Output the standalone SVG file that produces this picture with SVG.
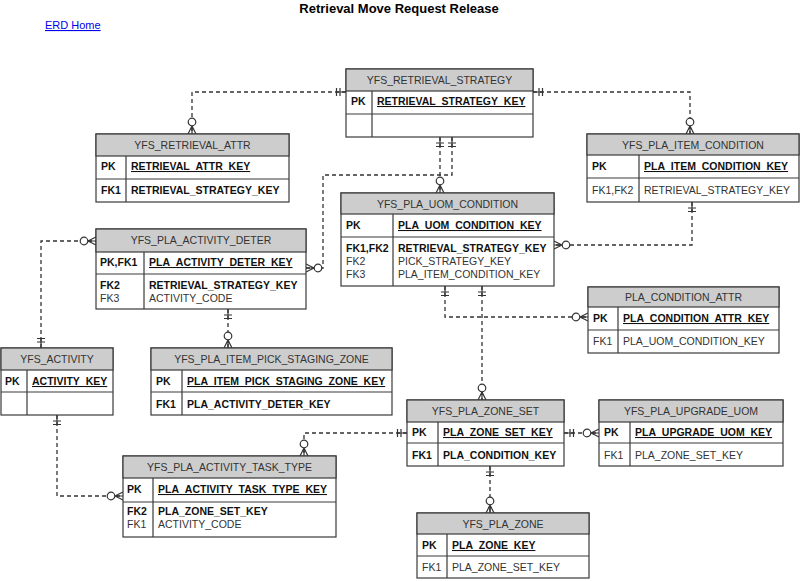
<svg xmlns="http://www.w3.org/2000/svg" width="800" height="581" viewBox="0 0 800 581">
<style>
text{font-family:"Liberation Sans",Arial,sans-serif;font-size:10.5px;fill:#111}
.title{font-size:13px;font-weight:bold;text-anchor:middle;fill:#000}
.link{font-size:11px;fill:#0000ee;text-decoration:underline}
.hd{fill:#cdcdcd;stroke:#3a3a3a;stroke-width:1.2}
.bx{fill:#fff;stroke:#3a3a3a;stroke-width:1.2}
.ln{stroke:#3a3a3a;stroke-width:1.2;fill:none}
.ht{text-anchor:middle;fill:#333}
.b{font-weight:bold}
.u{font-weight:bold;text-decoration:underline}
.n{fill:#333}
.c{fill:none;stroke:#333;stroke-width:1.3;stroke-dasharray:4,3}
</style>
<defs>
<marker id="many" viewBox="-18 -7 20 14" refX="0" refY="0" markerWidth="20" markerHeight="14" markerUnits="userSpaceOnUse" orient="auto" overflow="visible">
<path d="M-8,0 L0,-4 M-8,0 L0,0 M-8,0 L0,4" fill="none" stroke="#333" stroke-width="1.2"/>
<circle cx="-12" cy="0" r="3.8" fill="#fff" stroke="#333" stroke-width="1.2"/>
</marker>
<marker id="one" viewBox="-12 -7 14 14" refX="0" refY="0" markerWidth="14" markerHeight="14" markerUnits="userSpaceOnUse" orient="auto-start-reverse" overflow="visible">
<path d="M-6,-4 V4 M-9.5,-4 V4 M-10,0 H0" fill="none" stroke="#333" stroke-width="1.2"/>
</marker>
</defs>
<rect width="800" height="581" fill="#fff"/>
<text class="title" x="399" y="13">Retrieval Move Request Release</text>
<text class="link" x="45" y="29">ERD Home</text>

<g id="connectors">
<path class="c" d="M346,92 H192 V134" marker-start="url(#one)" marker-end="url(#many)"/>
<path class="c" d="M533,92 H690 V134" marker-start="url(#one)" marker-end="url(#many)"/>
<path class="c" d="M440,137 V193" marker-start="url(#one)" marker-end="url(#many)"/>
<path class="c" d="M452,137 V175 H323 V268 H306" marker-start="url(#one)" marker-end="url(#many)"/>
<path class="c" d="M692,202 V245 H554" marker-start="url(#one)" marker-end="url(#many)"/>
<path class="c" d="M445,286 V317 H588" marker-start="url(#one)" marker-end="url(#many)"/>
<path class="c" d="M482,286 V400" marker-start="url(#one)" marker-end="url(#many)"/>
<path class="c" d="M41,348 V241 H96" marker-start="url(#one)" marker-end="url(#many)"/>
<path class="c" d="M228,309 V348" marker-start="url(#one)" marker-end="url(#many)"/>
<path class="c" d="M57,415 V496 H123" marker-start="url(#one)" marker-end="url(#many)"/>
<path class="c" d="M407,433 H304 V456" marker-start="url(#one)" marker-end="url(#many)"/>
<path class="c" d="M564,433 H599" marker-start="url(#one)" marker-end="url(#many)"/>
<path class="c" d="M490,466 V513" marker-start="url(#one)" marker-end="url(#many)"/>
</g>

<g id="YFS_RETRIEVAL_STRATEGY">
<rect class="bx" x="346" y="69" width="187" height="68"/>
<rect class="hd" x="346" y="69" width="187" height="22"/>
<path class="ln" d="M346,114 H533 M372,91 V137"/>
<text class="ht" x="439.5" y="84">YFS_RETRIEVAL_STRATEGY</text>
<text class="b" x="351" y="105">PK</text>
<text class="u" x="377" y="105">RETRIEVAL_STRATEGY_KEY</text>
</g>

<g id="YFS_RETRIEVAL_ATTR">
<rect class="bx" x="96" y="134" width="193" height="68"/>
<rect class="hd" x="96" y="134" width="193" height="22"/>
<path class="ln" d="M96,179 H289 M126,156 V202"/>
<text class="ht" x="192.5" y="149">YFS_RETRIEVAL_ATTR</text>
<text class="b" x="101" y="170">PK</text>
<text class="u" x="131" y="170">RETRIEVAL_ATTR_KEY</text>
<text class="b" x="101" y="194">FK1</text>
<text class="b" x="131" y="194">RETRIEVAL_STRATEGY_KEY</text>
</g>

<g id="YFS_PLA_ITEM_CONDITION">
<rect class="bx" x="587" y="134" width="212" height="68"/>
<rect class="hd" x="587" y="134" width="212" height="21"/>
<path class="ln" d="M587,178 H799 M639,155 V202"/>
<text class="ht" x="693" y="149">YFS_PLA_ITEM_CONDITION</text>
<text class="b" x="592" y="170">PK</text>
<text class="u" x="644" y="170">PLA_ITEM_CONDITION_KEY</text>
<text class="n" x="592" y="194">FK1,FK2</text>
<text class="n" x="644" y="194">RETRIEVAL_STRATEGY_KEY</text>
</g>

<g id="YFS_PLA_UOM_CONDITION">
<rect class="bx" x="341" y="193" width="213" height="93"/>
<rect class="hd" x="341" y="193" width="213" height="21"/>
<path class="ln" d="M341,237 H554 M393,214 V286"/>
<text class="ht" x="447.5" y="208">YFS_PLA_UOM_CONDITION</text>
<text class="b" x="346" y="229">PK</text>
<text class="u" x="398" y="229">PLA_UOM_CONDITION_KEY</text>
<text class="b" x="346" y="252">FK1,FK2</text>
<text class="b" x="398" y="252">RETRIEVAL_STRATEGY_KEY</text>
<text class="n" x="346" y="265">FK2</text>
<text class="n" x="398" y="265">PICK_STRATEGY_KEY</text>
<text class="n" x="346" y="278">FK3</text>
<text class="n" x="398" y="278">PLA_ITEM_CONDITION_KEY</text>
</g>

<g id="YFS_PLA_ACTIVITY_DETER">
<rect class="bx" x="96" y="229" width="210" height="80"/>
<rect class="hd" x="96" y="229" width="210" height="23"/>
<path class="ln" d="M96,274 H306 M144,252 V309"/>
<text class="ht" x="201" y="244">YFS_PLA_ACTIVITY_DETER</text>
<text class="b" x="100" y="266">PK,FK1</text>
<text class="u" x="149" y="266">PLA_ACTIVITY_DETER_KEY</text>
<text class="b" x="100" y="289">FK2</text>
<text class="b" x="149" y="289">RETRIEVAL_STRATEGY_KEY</text>
<text class="n" x="100" y="302">FK3</text>
<text class="n" x="149" y="302">ACTIVITY_CODE</text>
</g>

<g id="YFS_ACTIVITY">
<rect class="bx" x="1" y="348" width="112" height="67"/>
<rect class="hd" x="1" y="348" width="112" height="22"/>
<path class="ln" d="M1,392 H113 M27,370 V415"/>
<text class="ht" x="57" y="363">YFS_ACTIVITY</text>
<text class="b" x="5" y="385">PK</text>
<text class="u" x="32" y="385">ACTIVITY_KEY</text>
</g>

<g id="YFS_PLA_ITEM_PICK_STAGING_ZONE">
<rect class="bx" x="151" y="348" width="241" height="67"/>
<rect class="hd" x="151" y="348" width="241" height="22"/>
<path class="ln" d="M151,392 H392 M182,370 V415"/>
<text class="ht" x="271.5" y="363">YFS_PLA_ITEM_PICK_STAGING_ZONE</text>
<text class="b" x="156" y="385">PK</text>
<text class="u" x="187" y="385">PLA_ITEM_PICK_STAGING_ZONE_KEY</text>
<text class="b" x="156" y="408">FK1</text>
<text class="b" x="187" y="408">PLA_ACTIVITY_DETER_KEY</text>
</g>

<g id="PLA_CONDITION_ATTR">
<rect class="bx" x="588" y="287" width="191" height="66"/>
<rect class="hd" x="588" y="287" width="191" height="20"/>
<path class="ln" d="M588,330 H779 M618,307 V353"/>
<text class="ht" x="683.5" y="301">PLA_CONDITION_ATTR</text>
<text class="b" x="593" y="322">PK</text>
<text class="u" x="623" y="322">PLA_CONDITION_ATTR_KEY</text>
<text class="n" x="593" y="345">FK1</text>
<text class="n" x="623" y="345">PLA_UOM_CONDITION_KEY</text>
</g>

<g id="YFS_PLA_ZONE_SET">
<rect class="bx" x="407" y="400" width="157" height="66"/>
<rect class="hd" x="407" y="400" width="157" height="22"/>
<path class="ln" d="M407,443 H564 M438,422 V466"/>
<text class="ht" x="485.5" y="415">YFS_PLA_ZONE_SET</text>
<text class="b" x="412" y="436">PK</text>
<text class="u" x="443" y="436">PLA_ZONE_SET_KEY</text>
<text class="b" x="412" y="459">FK1</text>
<text class="b" x="443" y="459">PLA_CONDITION_KEY</text>
</g>

<g id="YFS_PLA_UPGRADE_UOM">
<rect class="bx" x="599" y="400" width="184" height="66"/>
<rect class="hd" x="599" y="400" width="184" height="22"/>
<path class="ln" d="M599,443 H783 M630,422 V466"/>
<text class="ht" x="691" y="415">YFS_PLA_UPGRADE_UOM</text>
<text class="b" x="604" y="436">PK</text>
<text class="u" x="635" y="436">PLA_UPGRADE_UOM_KEY</text>
<text class="n" x="604" y="459">FK1</text>
<text class="n" x="635" y="459">PLA_ZONE_SET_KEY</text>
</g>

<g id="YFS_PLA_ACTIVITY_TASK_TYPE">
<rect class="bx" x="123" y="456" width="213" height="81"/>
<rect class="hd" x="123" y="456" width="213" height="22"/>
<path class="ln" d="M123,502 H336 M153,478 V537"/>
<text class="ht" x="229.5" y="471">YFS_PLA_ACTIVITY_TASK_TYPE</text>
<text class="b" x="127" y="493">PK</text>
<text class="u" x="158" y="493">PLA_ACTIVITY_TASK_TYPE_KEY</text>
<text class="b" x="127" y="515">FK2</text>
<text class="b" x="158" y="515">PLA_ZONE_SET_KEY</text>
<text class="n" x="127" y="528">FK1</text>
<text class="n" x="158" y="528">ACTIVITY_CODE</text>
</g>

<g id="YFS_PLA_ZONE">
<rect class="bx" x="417" y="513" width="172" height="65"/>
<rect class="hd" x="417" y="513" width="172" height="21"/>
<path class="ln" d="M417,556 H589 M447,534 V578"/>
<text class="ht" x="503" y="528">YFS_PLA_ZONE</text>
<text class="b" x="422" y="549">PK</text>
<text class="u" x="452" y="549">PLA_ZONE_KEY</text>
<text class="n" x="422" y="571">FK1</text>
<text class="n" x="452" y="571">PLA_ZONE_SET_KEY</text>
</g>
</svg>
